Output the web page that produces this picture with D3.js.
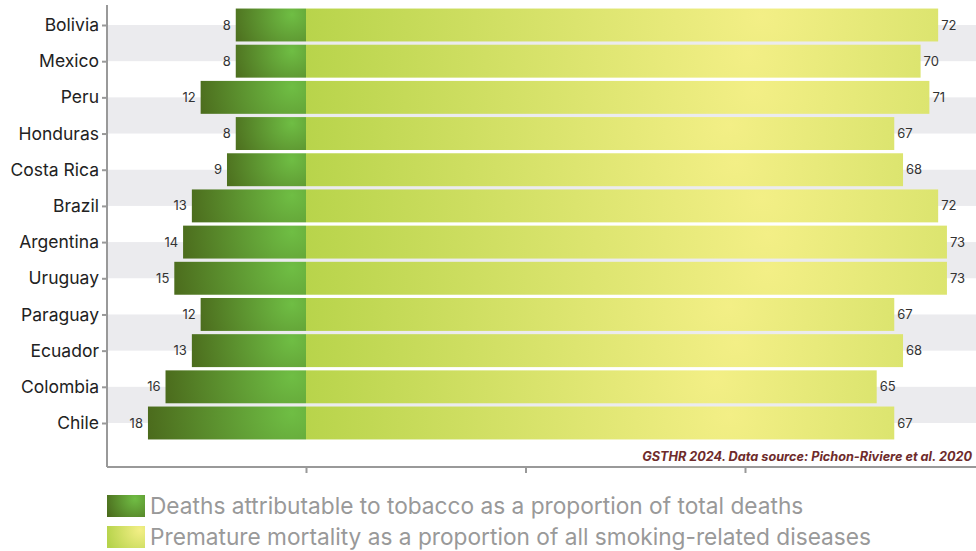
<!DOCTYPE html>
<html>
<head>
<meta charset="utf-8">
<script src="https://cdn.jsdelivr.net/npm/d3@7"></script>
<style>
  html, body { margin: 0; padding: 0; background: #fff; }
  svg { display: block; font-family: Inter, "Noto Sans", sans-serif; }
</style>
</head>
<body>
<svg id="chart" width="976" height="551"></svg>
<script>
const countries = ["Bolivia","Mexico","Peru","Honduras","Costa Rica","Brazil","Argentina","Uruguay","Paraguay","Ecuador","Colombia","Chile"];
const deathsShare = [8,8,12,8,9,13,14,15,12,13,16,18];
const prematureShare = [72,70,71,67,68,72,73,73,67,68,65,67];
const xTicks = [0,25,50];
const seriesNames = ["Deaths attributable to tobacco as a proportion of total deaths",
                     "Premature mortality as a proportion of all smoking-related diseases"];
const sourceText = "GSTHR 2024. Data source: Pichon-Riviere et al. 2020";

const svg = d3.select("#chart");
const W = 976;
const plotLeft = 107, plotBottom = 467;

const x = d3.scaleLinear().domain([0, 25]).range([306, 525.5]);
const y = d3.scalePoint().domain(countries).range([25, 423]);
const step = y.step();
const barH = step * 0.91;

const rows = countries.map((c,i)=>({c, i, d: deathsShare[i], p: prematureShare[i]}));
const defs = svg.append("defs");

// per-bar gradients (user space so they are not squashed)
rows.forEach(r => {
  const top = y(r.c) - barH/2;
  const x0 = x(-r.d), x1 = x(0);
  const gl = defs.append("radialGradient").attr("id", "gL" + r.i)
    .attr("gradientUnits", "userSpaceOnUse")
    .attr("cx", x1 - 14).attr("cy", top + 6).attr("r", (x1 - x0) * 0.95);
  gl.append("stop").attr("offset", "0%").attr("stop-color", "#6fbe44");
  gl.append("stop").attr("offset", "100%").attr("stop-color", "#4a681b");
  const xr = x(r.p);
  const gr = defs.append("radialGradient").attr("id", "gR" + r.i)
    .attr("gradientUnits", "userSpaceOnUse")
    .attr("cx", x1 + (xr - x1) * 0.72).attr("cy", top + 8).attr("r", (xr - x1) * 0.72);
  gr.append("stop").attr("offset", "0%").attr("stop-color", "#f3ef86");
  gr.append("stop").attr("offset", "100%").attr("stop-color", "#b8d44b");
});

const gLegL = defs.append("radialGradient").attr("id","gradLegL")
  .attr("gradientUnits","userSpaceOnUse").attr("cx",135).attr("cy",499).attr("r",32);
gLegL.append("stop").attr("offset","0%").attr("stop-color","#70bd44");
gLegL.append("stop").attr("offset","100%").attr("stop-color","#4a6a1c");
const gLegR = defs.append("radialGradient").attr("id","gradLegR")
  .attr("gradientUnits","userSpaceOnUse").attr("cx",140).attr("cy",530).attr("r",34);
gLegR.append("stop").attr("offset","0%").attr("stop-color","#f3ef86");
gLegR.append("stop").attr("offset","100%").attr("stop-color","#b6d34b");

// stripes
const stripeIdx = countries.map((c,i)=>i).filter(i => i % 2 === 0 && i < countries.length - 1);
svg.append("g").selectAll("rect").data(stripeIdx).join("rect")
  .attr("x", plotLeft).attr("width", W - plotLeft)
  .attr("y", i => y(countries[i]))
  .attr("height", i => y(countries[i+1]) - y(countries[i]))
  .attr("fill", "#ebebee");

// bars
svg.append("g").selectAll("rect").data(rows).join("rect")
  .attr("x", r => x(-r.d)).attr("width", r => x(0) - x(-r.d))
  .attr("y", r => y(r.c) - barH/2).attr("height", barH)
  .attr("fill", r => `url(#gL${r.i})`);
svg.append("g").selectAll("rect").data(rows).join("rect")
  .attr("x", x(0)).attr("width", r => x(r.p) - x(0))
  .attr("y", r => y(r.c) - barH/2).attr("height", barH)
  .attr("fill", r => `url(#gR${r.i})`);

// value labels
svg.append("g").selectAll("text").data(rows).join("text")
  .attr("x", r => x(-r.d) - 5).attr("y", r => y(r.c))
  .attr("dy","0.35em").attr("text-anchor","end")
  .attr("font-size", 13).attr("fill", "#333")
  .text(r => r.d);
svg.append("g").selectAll("text").data(rows).join("text")
  .attr("x", r => x(r.p) + 3).attr("y", r => y(r.c))
  .attr("dy","0.35em").attr("text-anchor","start")
  .attr("font-size", 13).attr("fill", "#333")
  .text(r => r.p);

// axes
const yAxis = svg.append("g").attr("transform", `translate(${plotLeft},0)`)
  .call(d3.axisLeft(y).tickSize(5).tickPadding(3));
yAxis.select(".domain").attr("d", `M0,5V${plotBottom}`);
yAxis.selectAll("line, path").attr("stroke", "#999").attr("stroke-width", 2);
yAxis.selectAll("text").attr("font-size", 17.5).attr("fill", "#222")
  .attr("font-family", 'Inter, "Noto Sans", sans-serif');

const xAxis = svg.append("g").attr("transform", `translate(0,${plotBottom})`)
  .call(d3.axisBottom(x).tickValues(xTicks).tickSize(6).tickFormat(""));
xAxis.select(".domain").attr("d", `M${plotLeft},0H${W}`);
xAxis.selectAll("line, path").attr("stroke", "#999").attr("stroke-width", 2);

// source
svg.append("text").attr("x", 972).attr("y", 461).attr("text-anchor", "end")
  .attr("font-size", 12.7).attr("font-weight", "bold").attr("font-style","italic")
  .attr("fill", "#6e2b2b").text(sourceText);

// legend
const leg = svg.append("g");
const legY = [495, 526];
const legFill = ["url(#gradLegL)", "url(#gradLegR)"];
leg.selectAll("rect").data(seriesNames).join("rect")
  .attr("x", plotLeft).attr("y", (d,i) => legY[i]).attr("width", 38).attr("height", 22)
  .attr("fill", (d,i) => legFill[i]);
leg.selectAll("text").data(seriesNames).join("text")
  .attr("x", 150).attr("y", (d,i) => legY[i] + 11).attr("dy", "0.36em")
  .attr("font-size", 22.7).attr("fill", "#999").text(d => d);
</script>
</body>
</html>
